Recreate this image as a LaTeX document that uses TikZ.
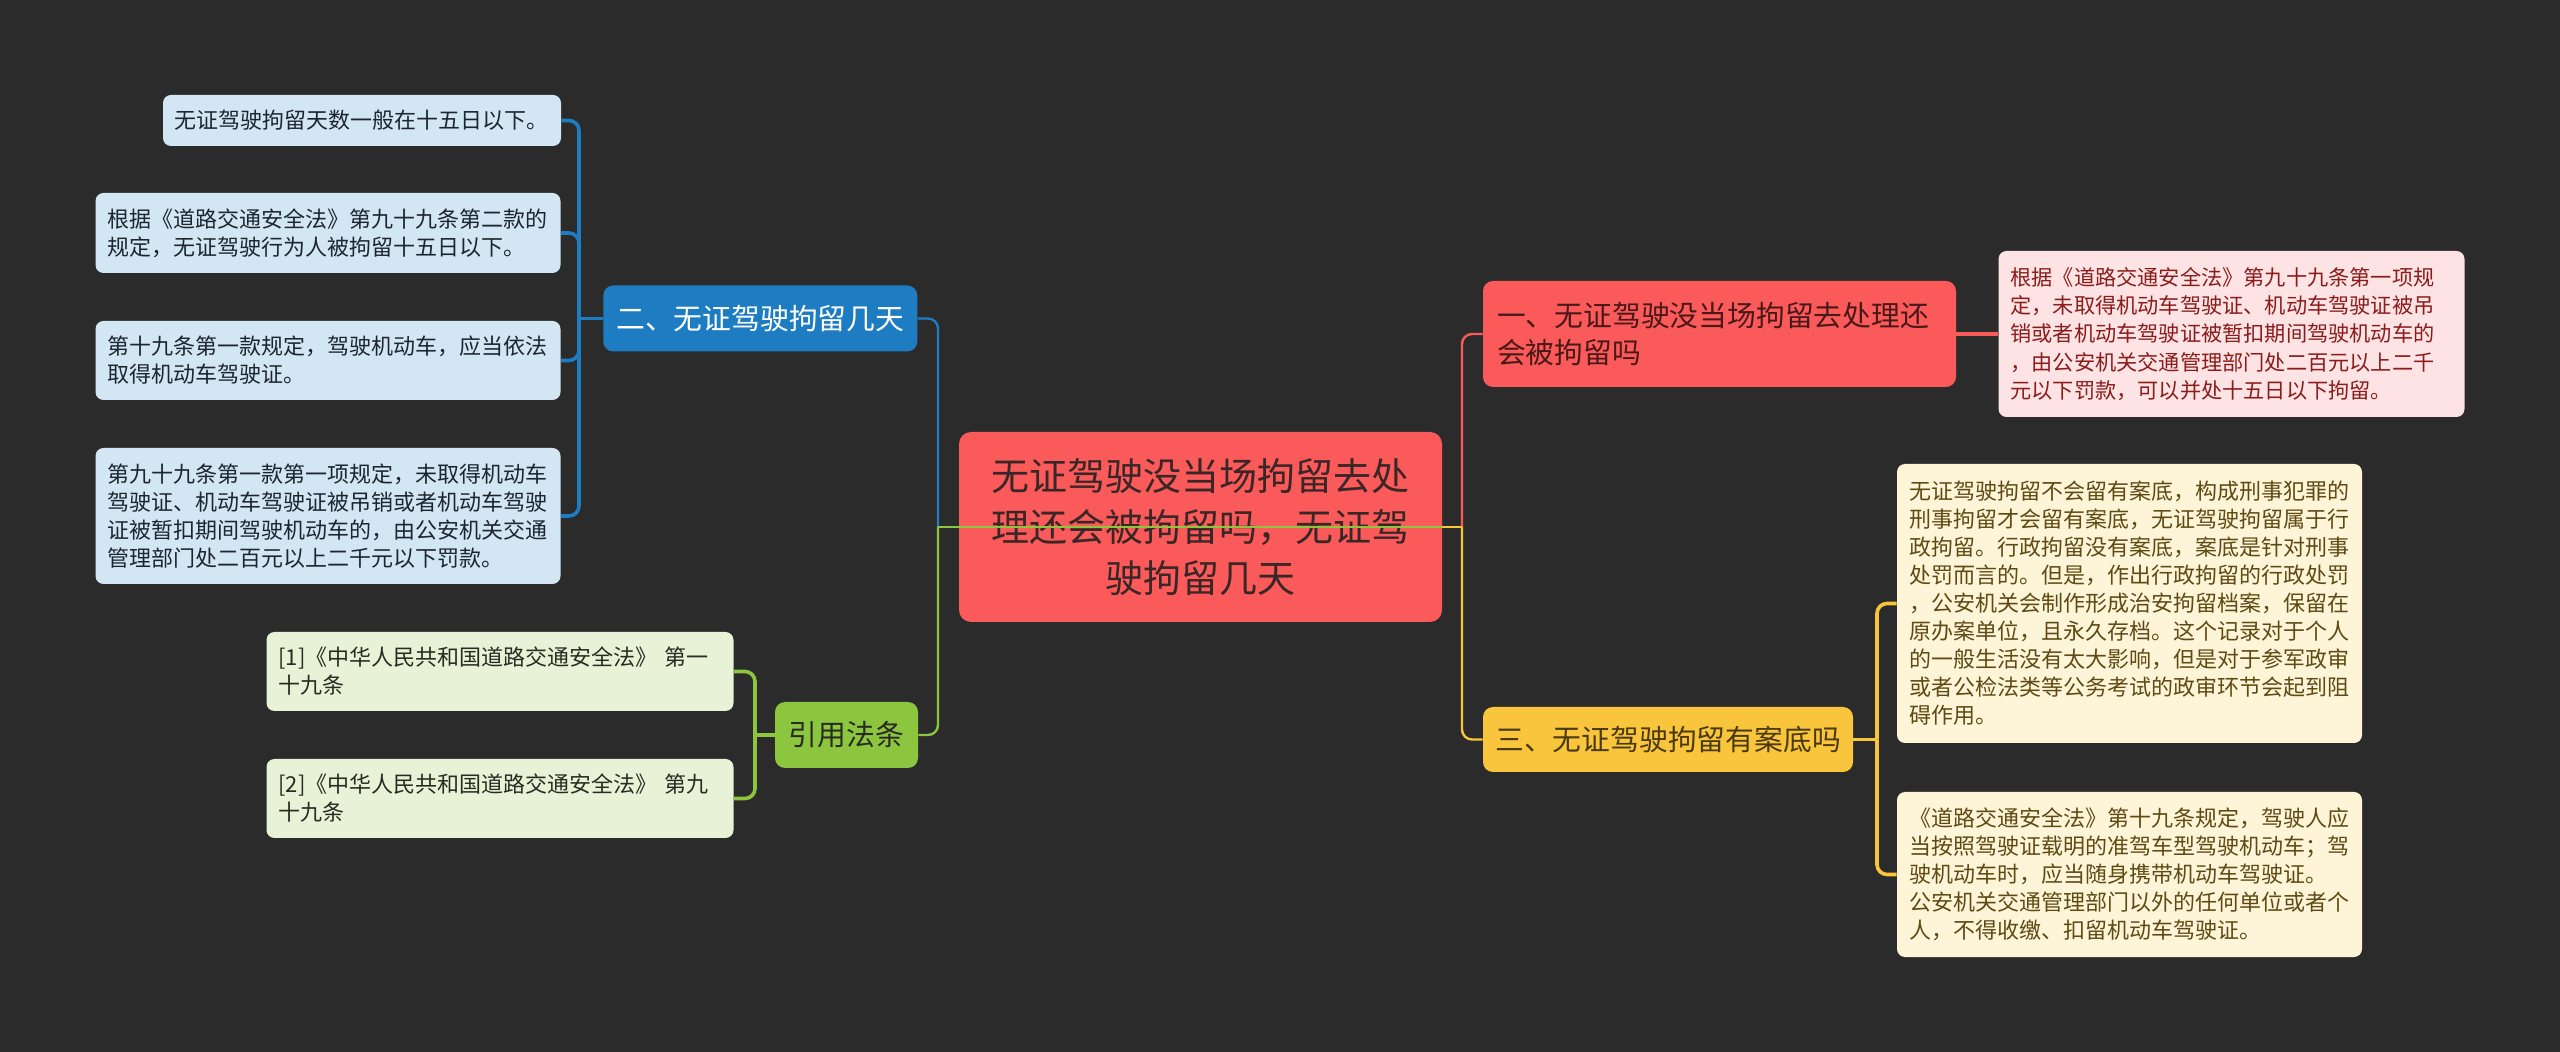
\documentclass[tikz,border=0pt]{standalone}
\usepackage{fontspec}
\setmainfont{Noto Sans CJK SC}
\usetikzlibrary{calc}
\definecolor{BgDark}{HTML}{2B2B2B}
\definecolor{RootRed}{HTML}{FA5A5A}
\definecolor{RootInk}{HTML}{3A2626}
\definecolor{BranchInk}{HTML}{4A1818}
\definecolor{PinkLeaf}{HTML}{FDE3E3}
\definecolor{PinkInk}{HTML}{8A1C1C}
\definecolor{SkyBlue}{HTML}{1E7DC2}
\definecolor{IceLeaf}{HTML}{D3E6F3}
\definecolor{IceInk}{HTML}{1D2630}
\definecolor{LeafGreen}{HTML}{8CC63F}
\definecolor{MintLeaf}{HTML}{E8F2D6}
\definecolor{MintInk}{HTML}{2A2A22}
\definecolor{GoldYellow}{HTML}{F8C53C}
\definecolor{GoldInk}{HTML}{4A3A0C}
\definecolor{CreamLeaf}{HTML}{FEF5D9}
\definecolor{CreamInk}{HTML}{5E4A12}

\begin{document}
\begin{tikzpicture}[
  x=0.5pt, y=-0.5pt,
  root/.style={fill=RootRed, text=RootInk, rounded corners=6pt, minimum width=241.5pt, minimum height=95pt, align=center, inner sep=0pt, font=\fontsize{19}{25.5}\selectfont},
  branch/.style={rounded corners=5pt, align=center, inner sep=0pt, font=\fontsize{14.4}{18.5}\selectfont},
  leaf/.style={rounded corners=4pt, align=left, inner xsep=6pt, inner ysep=0pt, text width=220.5pt, font=\fontsize{11}{14}\selectfont},
  link/.style={line width=1.2pt},
  twig/.style={line width=1.8pt, rounded corners=5pt}
]
\fill[BgDark] (0,0) rectangle (2560,1052);

\node[root] (c) at (1200.5,527) {无证驾驶没当场拘留去处\\理还会被拘留吗，无证驾\\驶拘留几天};

\node[branch, fill=SkyBlue, text=white, minimum width=157pt, minimum height=33pt] (b2) at (760.25,318.5) {二、无证驾驶拘留几天};
\node[leaf, fill=IceLeaf, text=IceInk, text width=188pt, inner xsep=5.5pt, minimum height=25.5pt] (l1) at (362,120.5) {无证驾驶拘留天数一般在十五日以下。};
\node[leaf, fill=IceLeaf, text=IceInk, minimum height=40pt] (l2) at (328,233) {根据《道路交通安全法》第九十九条第二款的\\规定，无证驾驶行为人被拘留十五日以下。};
\node[leaf, fill=IceLeaf, text=IceInk, minimum height=39.5pt] (l3) at (328,360.5) {第十九条第一款规定，驾驶机动车，应当依法\\取得机动车驾驶证。};
\node[leaf, fill=IceLeaf, text=IceInk, minimum height=68pt] (l4) at (328,516) {第九十九条第一款第一项规定，未取得机动车\\驾驶证、机动车驾驶证被吊销或者机动车驾驶\\证被暂扣期间驾驶机动车的，由公安机关交通\\管理部门处二百元以上二千元以下罚款。};

\node[branch, fill=LeafGreen, text=MintInk, minimum width=71.5pt, minimum height=33pt] (cite) at (846.5,735) {引用法条};
\node[leaf, fill=MintLeaf, text=MintInk, text width=221.5pt, minimum height=39.5pt] (f1) at (500,671.5) {[1]《中华人民共和国道路交通安全法》 第一\\十九条};
\node[leaf, fill=MintLeaf, text=MintInk, text width=221.5pt, minimum height=39.5pt] (f2) at (500,798.5) {[2]《中华人民共和国道路交通安全法》 第九\\十九条};

\node[branch, fill=RootRed, text=BranchInk, align=left, text width=222.5pt, inner xsep=7pt, minimum height=53pt] (b1) at (1719.5,334) {一、无证驾驶没当场拘留去处理还\\会被拘留吗};
\node[leaf, fill=PinkLeaf, text=PinkInk, text width=221pt, minimum height=83pt, font=\fontsize{10.6}{14.1}\selectfont] (r1) at (2231.5,334) {根据《道路交通安全法》第九十九条第一项规\\定，未取得机动车驾驶证、机动车驾驶证被吊\\销或者机动车驾驶证被暂扣期间驾驶机动车的\\，由公安机关交通管理部门处二百元以上二千\\元以下罚款，可以并处十五日以下拘留。};

\node[branch, fill=GoldYellow, text=GoldInk, minimum width=185pt, minimum height=32.5pt] (b3) at (1668,739.5) {三、无证驾驶拘留有案底吗};
\node[leaf, fill=CreamLeaf, text=CreamInk, minimum height=139.5pt] (y1) at (2129.5,603.5) {无证驾驶拘留不会留有案底，构成刑事犯罪的\\刑事拘留才会留有案底，无证驾驶拘留属于行\\政拘留。行政拘留没有案底，案底是针对刑事\\处罚而言的。但是，作出行政拘留的行政处罚\\，公安机关会制作形成治安拘留档案，保留在\\原办案单位，且永久存档。这个记录对于个人\\的一般生活没有太大影响，但是对于参军政审\\或者公检法类等公务考试的政审环节会起到阻\\碍作用。};
\node[leaf, fill=CreamLeaf, text=CreamInk, minimum height=82.5pt] (y2) at (2129.5,874.5) {《道路交通安全法》第十九条规定，驾驶人应\\当按照驾驶证载明的准驾车型驾驶机动车；驾\\驶机动车时，应当随身携带机动车驾驶证。\\公安机关交通管理部门以外的任何单位或者个\\人，不得收缴、扣留机动车驾驶证。};

\coordinate (jl) at (938,527);
\coordinate (jr) at (1462,527);
\coordinate (jb) at (579,318.5);
\coordinate (jg) at (755,735);
\coordinate (jy) at (1877,739.5);

\draw[link, SkyBlue, rounded corners=5pt] (jl) |- (b2.east);
\draw[link, LeafGreen] (c.east) -- (jl);
\draw[link, LeafGreen, rounded corners=5pt] (jl) |- (cite.east);
\draw[link, RootRed, rounded corners=5pt] (jr) |- (b1.west);
\draw[link, GoldYellow] (c.east) -- (jr);
\draw[link, GoldYellow, rounded corners=5pt] (jr) |- (b3.west);

\draw[twig, SkyBlue] (b2.west) -- (jb);
\foreach \n in {l1,l2,l3,l4} \draw[twig, SkyBlue] (jb) |- (\n.east);
\draw[twig, LeafGreen] (cite.west) -- (jg);
\foreach \n in {f1,f2} \draw[twig, LeafGreen] (jg) |- (\n.east);
\draw[twig, RootRed] (b1.east) -- (r1.west);
\draw[twig, GoldYellow] (b3.east) -- (jy);
\foreach \n in {y1,y2} \draw[twig, GoldYellow] (jy) |- (\n.west);
\end{tikzpicture}
\end{document}
